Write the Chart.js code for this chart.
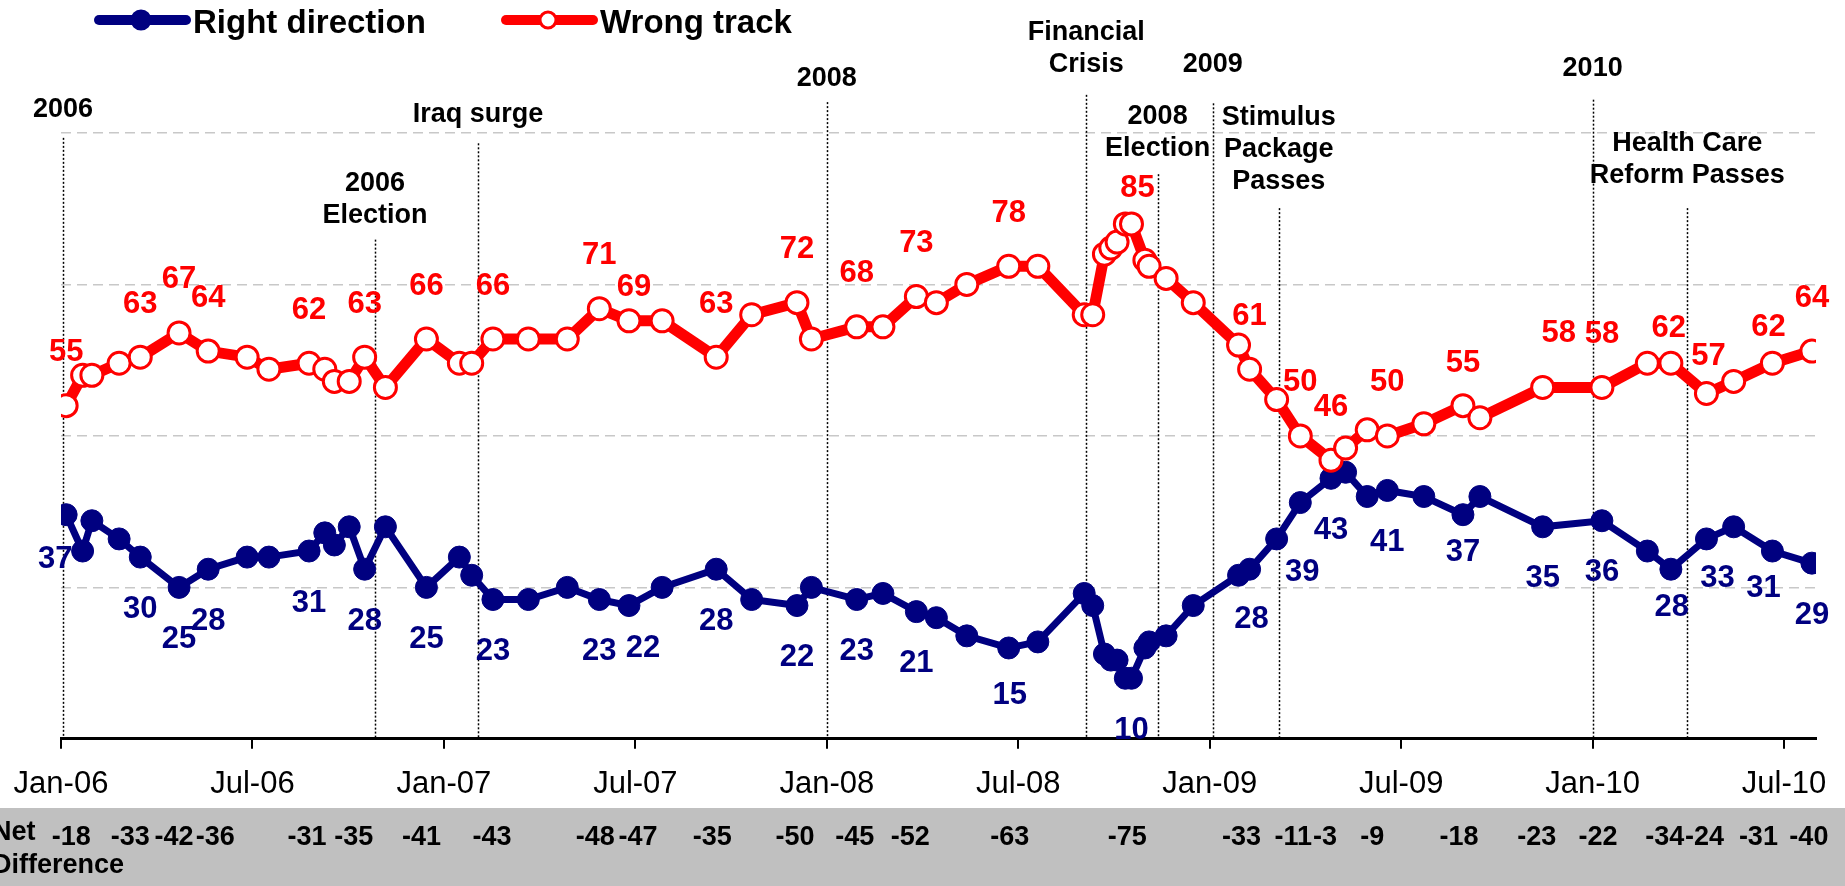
<!DOCTYPE html>
<html>
<head>
<meta charset="utf-8">
<title>Right direction / Wrong track</title>
<script src="https://cdn.jsdelivr.net/npm/chart.js@4.4.0/dist/chart.umd.min.js"></script>
<style>
  body { margin: 0; background: #fff; }
  #wrap { width: 1845px; height: 886px; position: relative; }
</style>
</head>
<body>
<div id="wrap"><canvas id="myChart"></canvas></div>
<script>
// poll dates and results
var pollDates = [
  "2006-01-06","2006-01-22","2006-01-31","2006-02-24","2006-03-16","2006-04-22","2006-05-20","2006-06-26",
  "2006-07-17","2006-08-25","2006-09-09","2006-09-18","2006-10-02","2006-10-17","2006-11-06","2006-12-15",
  "2007-01-16","2007-01-28","2007-02-16","2007-03-21","2007-04-27","2007-05-28","2007-06-25","2007-07-27",
  "2007-09-17","2007-10-21","2007-12-03","2007-12-17","2008-01-30","2008-02-23","2008-03-26","2008-04-14",
  "2008-05-13","2008-06-22","2008-07-20","2008-09-03","2008-09-11","2008-09-22","2008-09-28","2008-10-04",
  "2008-10-12","2008-10-18","2008-10-31","2008-11-04","2008-11-20","2008-12-16","2009-01-29","2009-02-08",
  "2009-03-04","2009-03-27","2009-04-25","2009-05-09","2009-05-30","2009-06-18","2009-07-23","2009-08-30",
  "2009-09-15","2009-11-14","2010-01-10","2010-02-21","2010-03-15","2010-04-18","2010-05-14","2010-06-20",
  "2010-07-28"
];
var rightDirection = [
  37,31,36,33,30,25,28,30,30,31,34,32,35,28,35,25,
  30,27,23,23,25,23,22,25,28,23,22,25,23,24,21,20,
  17,15,16,24,22,14,13,13,10,10,15,16,17,22,27,28,
  33,39,43,44,40,41,40,37,40,35,36,31,28,33,35,31,
  29
];
var wrongTrack = [
  55,60,60,62,63,67,64,63,61,62,61,59,59,63,58,66,
  62,62,66,66,66,71,69,69,63,70,72,66,68,68,73,72,
  75,78,78,70,70,80,81,82,85,85,79,78,76,72,65,61,
  56,50,46,48,51,50,52,55,53,58,58,62,62,57,59,62,
  64
];
var tickLabels = ["Jan-06","Jul-06","Jan-07","Jul-07","Jan-08","Jul-08","Jan-09","Jul-09","Jan-10","Jul-10"];

// net difference row (printed values, under the poll they belong to)
var netIndex = [0,4,5,6,9,13,15,18,21,22,24,26,28,30,33,40,47,49,50,53,55,57,58,60,61,63,64];
var netValues = [-18,-33,-42,-36,-31,-35,-41,-43,-48,-47,-35,-50,-45,-52,-63,-75,-33,-11,-3,-9,-18,-23,-22,-34,-24,-31,-40];

// events marked with dotted lines
var eventDates = ["2006-01-03","2006-10-27","2007-02-03","2008-01-01","2008-09-05","2008-11-12","2009-01-04","2009-03-06","2010-01-01","2010-03-31"];
var eventLabels = [["2006"],["2006","Election"],["Iraq surge"],["2008"],["Financial","Crisis"],["2008","Election"],["2009"],["Stimulus","Package","Passes"],["2010"],["Health Care","Reform Passes"]];

// layout of annotations (values on the y scale, pixel nudges)
var eventTop = [99.2,82.4,98.3,105.1,106.3,93.2,104.9,87.6,105.5,87.6];
var eventText = [103.8,91.7,103.0,109.0,116.6,102.7,111.3,102.5,110.6,98.2];
var labelIdx = [0,4,5,6,9,13,15,18,21,22,24,26,28,30,33,41,47,49,50,53,55,57,58,60,61,63,64];
var wrongNudge = {22:[5,-33],41:[6,-35],55:[0,-42],57:[16,-54],60:[-2,-35],61:[2,-37],63:[-4,-36]};
var rightNudge = {0:[-11,45],22:[14,43],33:[1,47],47:[2,50],49:[2,70],55:[0,38],60:[1,38],61:[11,40],63:[-9,37]};
var netNudge = [5,-10,-5,7,-2,-11,-5,-1,-4,9,-4,-2,-2,-6,1,2,-8,-7,-6,-15,-4,-6,-4,-6,-2,-14,-3];

var NAVY = "#000080";
var RED = "#FF0000";
var FONT = "'Liberation Sans', Arial, sans-serif";

function toMonths(s){
  var p = s.split("-");
  var y = +p[0], m = +p[1], d = +p[2];
  var dim = new Date(y, m, 0).getDate();
  return (y - 2006) * 12 + (m - 1) + (d - 1) / dim;
}

var rightPts = pollDates.map(function(d, i){ return {x: toMonths(d), y: rightDirection[i]}; });
var wrongPts = pollDates.map(function(d, i){ return {x: toMonths(d), y: wrongTrack[i]}; });

var extras = {
  id: "extras",
  beforeDraw: function(chart){
    var ctx = chart.ctx;
    ctx.save();
    ctx.fillStyle = "#C0C0C0";
    ctx.fillRect(0, 808, chart.width, chart.height - 808);
    ctx.restore();
  },
  beforeDatasetsDraw: function(chart){
    var ctx = chart.ctx, xs = chart.scales.x, ys = chart.scales.y;
    var bottom = chart.chartArea.bottom;
    ctx.save();
    ctx.strokeStyle = "#000";
    ctx.lineWidth = 1.5;
    ctx.setLineDash([2, 2]);
    eventDates.forEach(function(d, i){
      var x = Math.round(xs.getPixelForValue(toMonths(d))) + 0.5;
      ctx.beginPath();
      ctx.moveTo(x, ys.getPixelForValue(eventTop[i]));
      ctx.lineTo(x, bottom);
      ctx.stroke();
    });
    ctx.restore();
  },
  afterDatasetsDraw: function(chart){
    var ctx = chart.ctx, xs = chart.scales.x, ys = chart.scales.y;
    var rMeta = chart.getDatasetMeta(0), wMeta = chart.getDatasetMeta(1);
    ctx.save();
    ctx.textAlign = "center";
    ctx.textBaseline = "middle";

    // event labels
    ctx.font = "bold 27px " + FONT;
    ctx.fillStyle = "#000";
    eventLabels.forEach(function(lines, i){
      var x = xs.getPixelForValue(toMonths(eventDates[i]));
      var y = ys.getPixelForValue(eventText[i]);
      lines.forEach(function(t, k){ ctx.fillText(t, x, y + k * 32); });
    });

    // data labels
    ctx.font = "bold 31px " + FONT;
    labelIdx.forEach(function(i){
      var w = wMeta.data[i], r = rMeta.data[i];
      var wn = wrongNudge[i] || [0, -53];
      var rn = rightNudge[i] || [0, 52];
      ctx.fillStyle = RED;
      ctx.fillText(String(wrongTrack[i]), w.x + wn[0], w.y + wn[1]);
      ctx.fillStyle = NAVY;
      ctx.fillText(String(rightDirection[i]), r.x + rn[0], r.y + rn[1]);
    });

    // net difference row
    ctx.fillStyle = "#000";
    ctx.font = "bold 27px " + FONT;
    netIndex.forEach(function(i, k){
      ctx.fillText(String(netValues[k]), rMeta.data[i].x + netNudge[k], 838);
    });
    ctx.textAlign = "left";
    ctx.fillText("Net", -8, 833);
    ctx.fillText("Difference", -8, 866);

    // legend
    var items = [
      {x: 99, text: "Right direction", color: NAVY, fill: NAVY, r: 9},
      {x: 506, text: "Wrong track", color: RED, fill: "#fff", r: 8}
    ];
    items.forEach(function(it){
      ctx.strokeStyle = it.color;
      ctx.lineWidth = 10;
      ctx.lineCap = "round";
      ctx.beginPath();
      ctx.moveTo(it.x, 20);
      ctx.lineTo(it.x + 87, 20);
      ctx.stroke();
      ctx.beginPath();
      ctx.arc(it.x + 42, 20, it.r, 0, Math.PI * 2);
      ctx.fillStyle = it.fill;
      ctx.fill();
      ctx.lineWidth = 3;
      ctx.stroke();
      ctx.fillStyle = "#000";
      ctx.font = "bold 33px " + FONT;
      ctx.fillText(it.text, it.x + 94, 24);
    });
    ctx.restore();
  }
};

new Chart("myChart", {
  type: "line",
  data: {
    datasets: [{
      label: "Right direction",
      data: rightPts,
      borderColor: NAVY,
      backgroundColor: NAVY,
      borderWidth: 7,
      pointRadius: 11,
      pointBackgroundColor: NAVY,
      pointBorderColor: NAVY,
      pointBorderWidth: 1,
      order: 2
    }, {
      label: "Wrong track",
      data: wrongPts,
      borderColor: RED,
      backgroundColor: "#fff",
      borderWidth: 11,
      pointRadius: 11,
      pointBackgroundColor: "#fff",
      pointBorderColor: RED,
      pointBorderWidth: 3,
      order: 1
    }]
  },
  options: {
    responsive: true,
    maintainAspectRatio: false,
    animation: false,
    layout: { padding: { left: 61, right: 29, top: 133, bottom: 66 } },
    plugins: {
      legend: { display: false },
      tooltip: { enabled: false }
    },
    scales: {
      x: {
        type: "linear",
        min: 0,
        max: 55,
        grid: { drawOnChartArea: false, drawTicks: true, tickLength: 10, color: "#000", lineWidth: 2 },
        border: { display: true, color: "#000", width: 3 },
        ticks: {
          stepSize: 6,
          includeBounds: false,
          autoSkip: false,
          maxRotation: 0,
          padding: 10,
          color: "#000",
          font: { family: FONT, size: 31, lineHeight: 1.65 },
          callback: function(v){ return tickLabels[v / 6]; }
        }
      },
      y: {
        min: 0,
        max: 100,
        ticks: { display: false, stepSize: 25 },
        grid: {
          drawTicks: false,
          lineWidth: 1.5,
          color: function(c){ return c.tick && c.tick.value === 0 ? "rgba(0,0,0,0)" : "#C8C8C8"; }
        },
        border: { display: false, dash: [10, 6] }
      }
    }
  },
  plugins: [extras]
});
</script>
</body>
</html>
